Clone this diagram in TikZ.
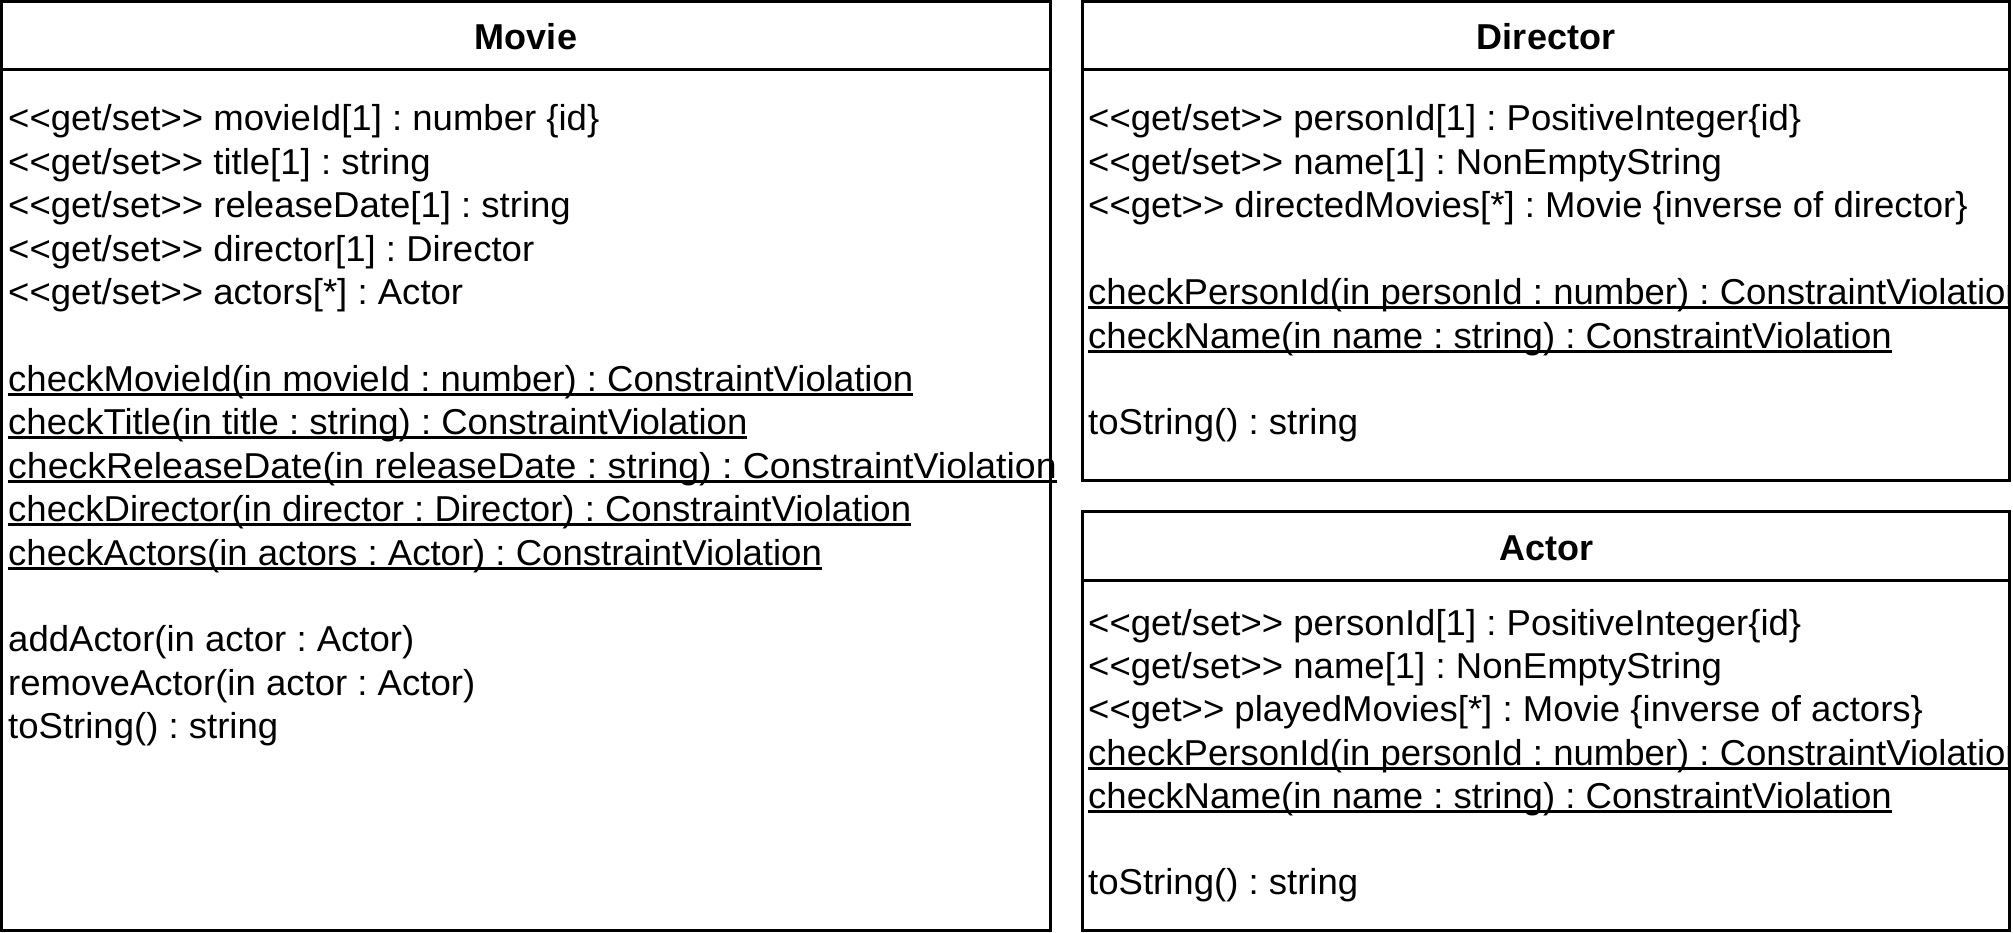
\documentclass[tikz,border=0pt]{standalone}
\usepackage{graphicx}
\usepackage{fontspec}
\setmainfont{Liberation Sans}[Ligatures=TeXOff]
\newfontfamily\bodyff{Liberation Sans}[FakeStretch=1.015,Ligatures=TeXOff]
\newfontfamily\titleff{Liberation Sans}[Ligatures=TeXOff]
\newcommand\ulbox[1]{\setbox0\hbox{#1}\rlap{\rule[-4.5pt]{\wd0}{3pt}}\box0}
\frenchspacing
\begin{document}
\begin{tikzpicture}[x=1pt,y=-1pt,
  umlbox/.style={draw,line width=3pt},
  member/.style={anchor=base west,inner sep=0pt,font=\bodyff\fontsize{36pt}{43pt}\selectfont\frenchspacing},
  classname/.style={anchor=base,inner sep=0pt,font=\titleff\bfseries\fontsize{36pt}{43pt}\selectfont}]
\useasboundingbox (0,0) rectangle (2013,933);

% ---------------- Movie ----------------
\draw[umlbox] (1.5,1.5) rectangle (1050,930.5);
\draw[umlbox] (1.5,70) -- (1050,70);
\node[classname] (movieT) at (526,50) {Movie};
\node[member] (m1) at (8,131) {<<get/set>> movieId[1] : number \{id\}};
\node[member] (m2) at (8,174.4) {<<get/set>> title[1] : string};
\node[member] (m3) at (8,217.8) {<<get/set>> releaseDate[1] : string};
\node[member] (m4) at (8,261.2) {<<get/set>> director[1] : Director};
\node[member] (m5) at (8,304.6) {<<get/set>> actors[*] : Actor};
\node[member] (m6) at (8,391.4) {\ulbox{checkMovieId(in movieId : number) : ConstraintViolation}};
\node[member] (m7) at (8,434.8) {\ulbox{checkTitle(in title : string) : ConstraintViolation}};
\node[member] (m8) at (8,478.2) {\scalebox{1.025}[1]{\ulbox{checkReleaseDate(in releaseDate : string) : ConstraintViolation}}};
\node[member] (m9) at (8,521.6) {\ulbox{checkDirector(in director : Director) : ConstraintViolation}};
\node[member] (m10) at (8,565) {\ulbox{checkActors(in actors : Actor) : ConstraintViolation}};
\node[member] (m11) at (8,651.8) {addActor(in actor : Actor)};
\node[member] (m12) at (8,695.2) {removeActor(in actor : Actor)};
\node[member] (m13) at (8,738.6) {toString() : string};

% ---------------- Director ----------------
\draw[umlbox] (1082,1.5) rectangle (2009.5,480);
\draw[umlbox] (1082,70) -- (2009.5,70);
\node[classname] (dirT) at (1546,50) {Director};
\begin{scope}
\clip (1082,1.5) rectangle (2008,480);
\node[member] (d1) at (1088,131) {<<get/set>> personId[1] : PositiveInteger\{id\}};
\node[member] (d2) at (1088,174.4) {<<get/set>> name[1] : NonEmptyString};
\node[member] (d3) at (1088,217.8) {<<get>> directedMovies[*] : Movie \{inverse of director\}};
\node[member] (d4) at (1088,304.6) {\ulbox{checkPersonId(in personId : number) : ConstraintViolation}};
\node[member] (d5) at (1088,348) {\ulbox{checkName(in name : string) : ConstraintViolation}};
\node[member] (d6) at (1088,434.8) {toString() : string};
\end{scope}

% ---------------- Actor ----------------
\draw[umlbox] (1082,511) rectangle (2009.5,930.5);
\draw[umlbox] (1082,580) -- (2009.5,580);
\node[classname] (actT) at (1546,560) {Actor};
\begin{scope}
\clip (1082,511) rectangle (2008,930.5);
\node[member] (a1) at (1088,635) {<<get/set>> personId[1] : PositiveInteger\{id\}};
\node[member] (a2) at (1088,678.4) {<<get/set>> name[1] : NonEmptyString};
\node[member] (a3) at (1088,721.8) {<<get>> playedMovies[*] : Movie \{inverse of actors\}};
\node[member] (a4) at (1088,765.2) {\ulbox{checkPersonId(in personId : number) : ConstraintViolation}};
\node[member] (a5) at (1088,808.6) {\ulbox{checkName(in name : string) : ConstraintViolation}};
\node[member] (a6) at (1088,894.4) {toString() : string};
\end{scope}
\end{tikzpicture}
\end{document}
